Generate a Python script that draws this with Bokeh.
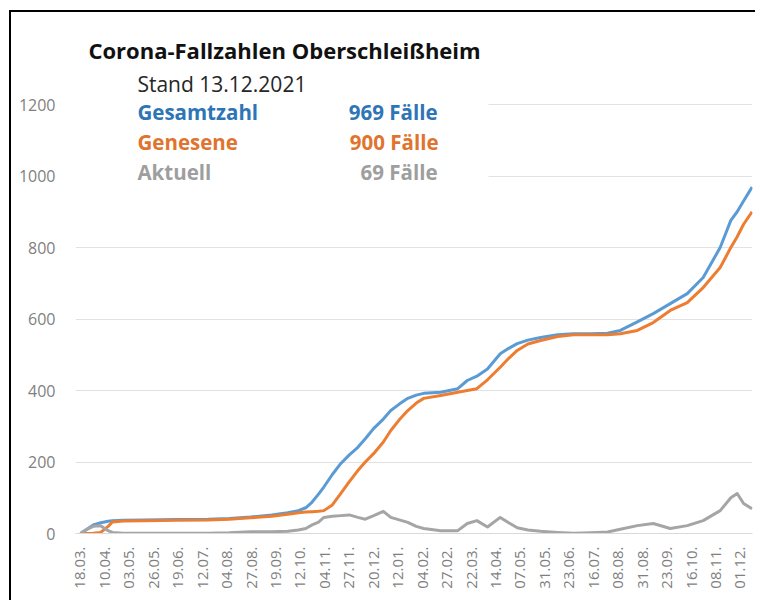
import math
from bokeh.plotting import figure
from bokeh.models import Range1d, FixedTicker, Label, BoxAnnotation
from bokeh.embed import file_html
from bokeh.resources import INLINE

# ---- data (day index since 18.03.2020) ----
tick_labels = ["18.03.", "10.04.", "03.05.", "26.05.", "19.06.", "12.07.", "04.08.",
               "27.08.", "19.09.", "12.10.", "04.11.", "27.11.", "20.12.", "12.01.",
               "04.02.", "27.02.", "22.03.", "14.04.", "07.05.", "31.05.", "23.06.",
               "16.07.", "08.08.", "31.08.", "23.09.", "16.10.", "08.11.", "01.12."]

days = [0, 5, 12, 19, 26, 30, 40, 60, 90, 120, 140, 160, 180, 195, 205, 212, 218, 224,
        229, 237, 245, 253, 261, 268, 276, 285, 292, 300, 308, 316, 323, 339, 355, 364,
        373, 383, 395, 403, 411, 421, 433, 449, 464, 480, 496, 508, 524, 539, 555, 571,
        586, 602, 612, 618, 624, 632]

gesamtzahl = [0, 10, 24, 30, 34, 36, 37, 38, 39, 40, 42, 46, 52, 58, 64, 72, 88, 110,
              130, 165, 196, 220, 241, 265, 294, 320, 344, 362, 378, 387, 392, 395, 405, 428,
              440, 460, 503, 518, 531, 541, 548, 556, 559, 559, 560, 568, 592, 615, 643, 671,
              716, 800, 876, 900, 930, 969]

genesene = [0, 0, 1, 3, 20, 32, 35, 36, 37, 38, 40, 44, 48, 54, 58, 60, 61, 62,
            64, 80, 112, 145, 176, 200, 224, 256, 288, 318, 344, 365, 378, 386, 395, 400,
            405, 430, 465, 490, 512, 530, 540, 551, 556, 556, 556, 559, 568, 590, 624, 646,
            688, 744, 800, 830, 865, 900]

aktuell = [0, 10, 20, 22, 8, 3, 1, 1, 1, 1, 2, 5, 5, 6, 10, 14, 24, 32,
           45, 48, 50, 52, 45, 40, 50, 62, 45, 38, 31, 20, 14, 8, 8, 28,
           36, 18, 45, 30, 16, 10, 6, 3, 1, 2, 4, 12, 22, 28, 14, 22,
           36, 64, 100, 112, 84, 69]

y_ticks = [0, 200, 400, 600, 800, 1000, 1200]

FONT = "Open Sans"
BLUE, ORANGE, GRAY = "#5B9BD5", "#ED7D31", "#A5A5A5"

p = figure(width=746, height=590, output_backend="svg", toolbar_location=None,
           x_range=Range1d(-4.7, 632.4), y_range=Range1d(0, 1435),
           min_border_left=64, min_border_right=5, min_border_top=8, min_border_bottom=69)
p.outline_line_color = None
p.background_fill_color = "white"
p.border_fill_color = "white"
p.styles = {"border-left": "2px solid #000", "border-top": "2px solid #000",
            "margin-left": "9px", "margin-top": "10px"}

p.xgrid.grid_line_color = None
p.ygrid.grid_line_color = "#e2e2e2"
p.ygrid.grid_line_width = 1

tick_pos = [23 * i for i in range(len(tick_labels))]
p.xaxis.ticker = FixedTicker(ticks=tick_pos)
p.xaxis.major_label_overrides = {t: l for t, l in zip(tick_pos, tick_labels)}
p.xaxis.major_label_orientation = math.pi / 2
p.xaxis.axis_line_color = "#d9d9d9"
p.xaxis.major_tick_line_color = None
p.xaxis.minor_tick_line_color = None
p.xaxis.major_tick_out = 0
p.xaxis.major_label_standoff = 13
p.xaxis.major_label_text_font_size = "15px"

p.yaxis.ticker = FixedTicker(ticks=y_ticks)
p.yaxis.axis_line_color = None
p.yaxis.major_tick_line_color = None
p.yaxis.minor_tick_line_color = None
p.yaxis.major_tick_out = 0
p.yaxis.major_label_standoff = 20
p.yaxis.major_label_text_font_size = "16px"

for ax in (p.xaxis[0], p.yaxis[0]):
    ax.major_label_text_font = FONT
    ax.major_label_text_color = "#7f7f7f"

p.line(days, gesamtzahl, line_color=BLUE, line_width=3, line_join="round")
p.line(days, genesene, line_color=ORANGE, line_width=3, line_join="round")
p.line(days, aktuell, line_color=GRAY, line_width=3, line_join="round")

# white box behind the text block
p.add_layout(BoxAnnotation(left=-4.7, right=384, bottom=960, top=1435,
                           fill_color="white", fill_alpha=1, line_color=None))

def lab(x, y, text, color, size, bold=True, align="left"):
    p.add_layout(Label(x=x, y=y, text=text, text_color=color, text_font=FONT,
                       text_font_size=size, text_font_style="bold" if bold else "normal",
                       text_align=align, text_baseline="alphabetic"))

lab(7.5, 1353, "Corona-Fallzahlen Oberschleißheim", "#111111", "22px")
lab(53.6, 1258, "Stand 13.12.2021", "#262626", "21px", bold=False)
lab(53.6, 1180, "Gesamtzahl", "#2E75B6", "20.5px")
lab(336, 1180, "969 Fälle", "#2E75B6", "20.5px", align="right")
lab(53.6, 1096, "Genesene", "#E0742F", "20.5px")
lab(337, 1096, "900 Fälle", "#E0742F", "20.5px", align="right")
lab(53.6, 1012, "Aktuell", "#9E9E9E", "20.5px")
lab(336, 1012, "69 Fälle", "#9E9E9E", "20.5px", align="right")

open("out.html", "w").write(file_html(p, INLINE))
